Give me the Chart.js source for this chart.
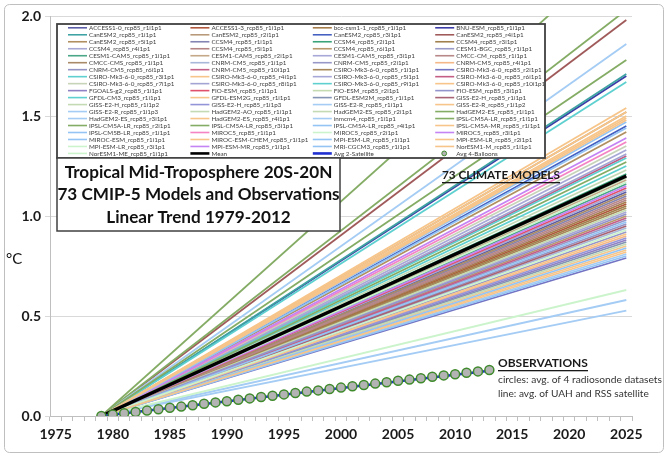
<!DOCTYPE html>
<html lang="en">
<head>
<meta charset="UTF-8">
<title>Tropical Mid-Troposphere 20S-20N - 73 CMIP-5 models</title>
<script src="https://cdn.jsdelivr.net/npm/chart.js"></script>
<style>
	html, body { margin: 0; padding: 0; background: #fff; }
	#wrap { width: 668px; height: 459px; }
</style>
</head>
<body>
<div id="wrap"><canvas id="trendChart" width="668" height="459"></canvas></div>

<script>
// x categories: one per year
const years = [];
for (let y = 1975; y <= 2025; y++) years.push(String(y));

const yTicks = [0, 0.5, 1.0, 1.5, 2.0];

// legend order (row by row, 4 columns)
const modelNames = [
	'ACCESS1-0_rcp85_r1i1p1', 'ACCESS1-3_rcp85_r1i1p1', 'bcc-csm1-1_rcp85_r1i1p1', 'BNU-ESM_rcp85_r1i1p1',
	'CanESM2_rcp85_r1i1p1', 'CanESM2_rcp85_r2i1p1', 'CanESM2_rcp85_r3i1p1', 'CanESM2_rcp85_r4i1p1',
	'CanESM2_rcp85_r5i1p1', 'CCSM4_rcp85_r1i1p1', 'CCSM4_rcp85_r2i1p1', 'CCSM4_rcp85_r3i1p1',
	'CCSM4_rcp85_r4i1p1', 'CCSM4_rcp85_r5i1p1', 'CCSM4_rcp85_r6i1p1', 'CESM1-BGC_rcp85_r1i1p1',
	'CESM1-CAM5_rcp85_r1i1p1', 'CESM1-CAM5_rcp85_r2i1p1', 'CESM1-CAM5_rcp85_r3i1p1', 'CMCC-CM_rcp85_r1i1p1',
	'CMCC-CMS_rcp85_r1i1p1', 'CNRM-CM5_rcp85_r1i1p1', 'CNRM-CM5_rcp85_r2i1p1', 'CNRM-CM5_rcp85_r4i1p1',
	'CNRM-CM5_rcp85_r6i1p1', 'CNRM-CM5_rcp85_r10i1p1', 'CSIRO-Mk3-6-0_rcp85_r1i1p1', 'CSIRO-Mk3-6-0_rcp85_r2i1p1',
	'CSIRO-Mk3-6-0_rcp85_r3i1p1', 'CSIRO-Mk3-6-0_rcp85_r4i1p1', 'CSIRO-Mk3-6-0_rcp85_r5i1p1', 'CSIRO-Mk3-6-0_rcp85_r6i1p1',
	'CSIRO-Mk3-6-0_rcp85_r7i1p1', 'CSIRO-Mk3-6-0_rcp85_r8i1p1', 'CSIRO-Mk3-6-0_rcp85_r9i1p1', 'CSIRO-Mk3-6-0_rcp85_r10i1p1',
	'FGOALS-g2_rcp85_r1i1p1', 'FIO-ESM_rcp85_r1i1p1', 'FIO-ESM_rcp85_r2i1p1', 'FIO-ESM_rcp85_r3i1p1',
	'GFDL-CM3_rcp85_r1i1p1', 'GFDL-ESM2G_rcp85_r1i1p1', 'GFDL-ESM2M_rcp85_r1i1p1', 'GISS-E2-H_rcp85_r1i1p1',
	'GISS-E2-H_rcp85_r1i1p2', 'GISS-E2-H_rcp85_r1i1p3', 'GISS-E2-R_rcp85_r1i1p1', 'GISS-E2-R_rcp85_r1i1p2',
	'GISS-E2-R_rcp85_r1i1p3', 'HadGEM2-AO_rcp85_r1i1p1', 'HadGEM2-ES_rcp85_r2i1p1', 'HadGEM2-ES_rcp85_r1i1p1',
	'HadGEM2-ES_rcp85_r3i1p1', 'HadGEM2-ES_rcp85_r4i1p1', 'inmcm4_rcp85_r1i1p1', 'IPSL-CM5A-LR_rcp85_r1i1p1',
	'IPSL-CM5A-LR_rcp85_r2i1p1', 'IPSL-CM5A-LR_rcp85_r3i1p1', 'IPSL-CM5A-LR_rcp85_r4i1p1', 'IPSL-CM5A-MR_rcp85_r1i1p1',
	'IPSL-CM5B-LR_rcp85_r1i1p1', 'MIROC5_rcp85_r1i1p1', 'MIROC5_rcp85_r2i1p1', 'MIROC5_rcp85_r3i1p1',
	'MIROC-ESM_rcp85_r1i1p1', 'MIROC-ESM-CHEM_rcp85_r1i1p1', 'MPI-ESM-LR_rcp85_r1i1p1', 'MPI-ESM-LR_rcp85_r2i1p1',
	'MPI-ESM-LR_rcp85_r3i1p1', 'MPI-ESM-MR_rcp85_r1i1p1', 'MRI-CGCM3_rcp85_r1i1p1', 'NorESM1-M_rcp85_r1i1p1',
	'NorESM1-ME_rcp85_r1i1p1'
];

// trend line value in 2025 (all lines start at 0 in 1979), deg C
const model2025 = [
	1.12, 1.06, 1.07, 1.70,
	1.71, 1.52, 1.45, 1.98,
	1.42, 1.10, 1.21, 1.05,
	1.02, 1.08, 1.00, 0.98,
	1.16, 1.18, 1.13, 1.09,
	1.11, 0.94, 0.92, 0.90,
	0.96, 0.99, 1.04, 0.79,
	1.67, 1.50, 1.33, 1.30,
	1.35, 1.31, 1.29, 1.49,
	0.88, 1.14, 1.03, 1.01,
	1.25, 0.85, 0.87, 0.95,
	0.86, 0.89, 0.58, 0.83,
	0.81, 1.19, 1.23, 2.03,
	1.86, 1.54, 0.527, 2.35,
	1.78, 1.27, 1.47, 1.52,
	0.84, 1.37, 0.63, 1.39,
	1.44, 1.48, 0.97, 0.91,
	0.93, 1.15, 0.80, 0.82,
	1.17
];

const modelColors = [
	'#5b5ea6', '#b0583c', '#a57c4a', '#3c3ca8',
	'#3fa3a3', '#b89a78', '#4560c0', '#a05a5a',
	'#b09060', '#8484b4', '#3aa37a', '#a0804c',
	'#a8a8d4', '#b48484', '#b8986c', '#9a9ac8',
	'#4aa888', '#c4a888', '#a8a8d8', '#b88888',
	'#a88a68', '#a8b8d8', '#9898c8', '#f4b888',
	'#9494c4', '#c46088', '#a8885a', '#7474c4',
	'#5ed0d0', '#f7c58a', '#a8a8d8', '#c45e84',
	'#c8d4b8', '#a4a4d4', '#5ed0d0', '#f7c58a',
	'#9080c4', '#e0506a', '#c4dab0', '#9494cc',
	'#5ed0d0', '#f7c58a', '#8494b4', '#a86474',
	'#c4dab4', '#9494d8', '#a4ccf4', '#f7c58a',
	'#a4ccf4', '#c4dab4', '#c4dab4', '#84ac64',
	'#a4ccf4', '#f7c58a', '#a4ccf4', '#84ac64',
	'#84ac64', '#84ac64', '#94c4f4', '#f7c58a',
	'#94c4f4', '#f484c4', '#ccf4cc', '#c484f4',
	'#94c4f4', '#f7c58a', '#94c4f4', '#f7c58a',
	'#ccf4cc', '#c484f4', '#94c4f4', '#f7c58a',
	'#ccf4cc'
];

const meanStart = 0, meanEnd2025 = 1.20;

// observations, 1979-2013
const obsYears = [];
for (let y = 1979; y <= 2013; y++) obsYears.push(String(y));
const balloonTrend = [
	0.000, 0.007, 0.014, 0.020, 0.027, 0.034, 0.041, 0.047, 0.054, 0.061,
	0.068, 0.074, 0.081, 0.088, 0.095, 0.101, 0.108, 0.115, 0.122, 0.128,
	0.135, 0.142, 0.149, 0.155, 0.162, 0.169, 0.176, 0.182, 0.189, 0.196,
	0.203, 0.209, 0.216, 0.223, 0.230
];
const satStart = 0, satEnd2013 = 0.226;

const FONT = 'Lato, "Open Sans", sans-serif';

// datasets
const datasets = [];
modelNames.forEach((name, i) => {
	datasets.push({
		label: name,
		data: [{ x: '1979', y: 0 }, { x: '2025', y: model2025[i] }],
		borderColor: modelColors[i],
		borderWidth: 1.8,
		pointRadius: 0,
		fill: false,
		order: 200 - i
	});
});
datasets.push({
	label: 'Mean',
	data: [{ x: '1979', y: meanStart }, { x: '2025', y: meanEnd2025 }],
	borderColor: '#000000',
	borderWidth: 3.5,
	pointRadius: 0,
	order: 2
});
datasets.push({
	label: 'Avg 2-Satellite',
	data: [{ x: '1979', y: satStart }, { x: '2013', y: satEnd2013 }],
	borderColor: '#1f2fd0',
	borderWidth: 2.5,
	pointRadius: 0,
	order: 1
});
datasets.push({
	label: 'Avg 4-Balloons',
	data: obsYears.map((y, i) => ({ x: y, y: balloonTrend[i] })),
	showLine: false,
	pointRadius: 4.5,
	pointBackgroundColor: '#b3b3b3',
	pointBorderColor: '#3f8a2c',
	pointBorderWidth: 1.5,
	order: 0
});

// pick font size so text spans a given width
function fitFont(ctx, text, weight, width, family) {
	ctx.font = weight + ' 20px ' + family;
	const w = ctx.measureText(text).width;
	const size = 20 * width / w;
	ctx.font = weight + ' ' + size.toFixed(2) + 'px ' + family;
	return size;
}

const framePlugin = {
	id: 'frame',
	beforeDraw(chart) {
		const ctx = chart.ctx;
		ctx.save();
		ctx.fillStyle = '#fff';
		ctx.fillRect(0, 0, chart.width, chart.height);
		ctx.strokeStyle = '#bfbfbf';
		ctx.lineWidth = 1;
		ctx.beginPath();
		ctx.roundRect(4.5, 4.5, 659, 448, 5);
		ctx.stroke();
		ctx.restore();
	}
};

const boxesPlugin = {
	id: 'boxes',
	afterDatasetsDraw(chart) {
		const ctx = chart.ctx;
		const ds = chart.data.datasets;
		ctx.save();

		// legend box
		ctx.fillStyle = '#fff';
		ctx.fillRect(57, 24, 488, 134);
		ctx.strokeStyle = '#404040';
		ctx.lineWidth = 1.8;
		ctx.strokeRect(57, 24, 488, 134);

		ctx.font = '6.3px ' + FONT;
		ctx.textBaseline = 'middle';
		ctx.textAlign = 'left';
		ds.forEach((d, i) => {
			const col = i % 4, row = Math.floor(i / 4);
			const x0 = 68 + col * 122.4;
			const yy = 27.8 + row * 6.98;
			if (d.showLine === false) {
				ctx.beginPath();
				ctx.arc(x0 + 9, yy, 2.4, 0, Math.PI * 2);
				ctx.fillStyle = d.pointBackgroundColor;
				ctx.fill();
				ctx.strokeStyle = d.pointBorderColor;
				ctx.lineWidth = 1;
				ctx.stroke();
			} else {
				ctx.beginPath();
				ctx.moveTo(x0, yy);
				ctx.lineTo(x0 + 19, yy);
				ctx.strokeStyle = d.borderColor;
				ctx.lineWidth = d.borderWidth > 2 ? 2.6 : 1.6;
				ctx.stroke();
			}
			ctx.fillStyle = '#404040';
			ctx.fillText(d.label, x0 + 21, yy + 0.3);
		});

		// title box
		ctx.fillStyle = '#fff';
		ctx.fillRect(57, 158, 283, 73);
		ctx.strokeStyle = '#404040';
		ctx.lineWidth = 1.5;
		ctx.strokeRect(57, 158, 283, 73);
		ctx.fillStyle = '#111';
		ctx.textAlign = 'center';
		const titleLines = ['Tropical Mid-Troposphere 20S-20N', '73 CMIP-5 Models and Observations', 'Linear Trend 1979-2012'];
		fitFont(ctx, titleLines[0], 'bold', 268, FONT);
		titleLines.forEach((t, i) => ctx.fillText(t, 198.5, 172 + i * 22.8));

		// annotations
		ctx.textAlign = 'left';
		fitFont(ctx, '73 CLIMATE MODELS', 'bold', 118, FONT);
		ctx.fillStyle = '#1a1a1a';
		ctx.fillText('73 CLIMATE MODELS', 442, 175);
		ctx.fillRect(442, 182, 118, 1.3);

		fitFont(ctx, 'OBSERVATIONS', 'bold', 90, FONT);
		ctx.fillText('OBSERVATIONS', 498, 363);
		ctx.fillRect(498, 370, 90, 1.3);

		ctx.fillStyle = '#333';
		fitFont(ctx, 'circles: avg. of 4 radiosonde datasets', 'normal', 164, FONT);
		ctx.fillText('circles: avg. of 4 radiosonde datasets', 498, 379.5);
		fitFont(ctx, 'line: avg. of UAH and RSS satellite', 'normal', 151, FONT);
		ctx.fillText('line: avg. of UAH and RSS satellite', 498, 393.5);

		ctx.fillStyle = '#111';
		ctx.font = '15px ' + FONT;
		ctx.fillText('\u00B0C', 6, 259);
		ctx.restore();
	}
};

new Chart(document.getElementById('trendChart'), {
	type: 'line',
	data: { labels: years, datasets: datasets },
	options: {
		responsive: false,
		animation: false,
		events: [],
		layout: { padding: { left: 0, top: 16, right: 36, bottom: 0 } },
		elements: { line: { tension: 0 } },
		plugins: { legend: { display: false }, tooltip: { enabled: false } },
		scales: {
			x: {
				type: 'category',
				offset: true,
				grid: { offset: true, drawOnChartArea: false, tickLength: 5, color: '#bfbfbf' },
				border: { color: '#bfbfbf' },
				ticks: {
					autoSkip: false,
					maxRotation: 0,
					padding: 5,
					color: '#1a1a1a',
					font: { family: FONT, weight: 'bold', size: 14 },
					callback: function (v) {
						const y = this.getLabelForValue(v);
						return Number(y) % 5 === 0 ? y : '';
					}
				},
				afterFit(s) { s.height = 43; }
			},
			y: {
				min: yTicks[0],
				max: yTicks[yTicks.length - 1],
				grid: { color: '#d9d9d9', tickLength: 5 },
				border: { color: '#bfbfbf' },
				ticks: {
					stepSize: 0.5,
					padding: 4,
					color: '#1a1a1a',
					font: { family: FONT, weight: 'bold', size: 14 },
					callback: v => v.toFixed(1)
				},
				afterFit(s) { s.width = 50; }
			}
		}
	},
	plugins: [framePlugin, boxesPlugin]
});
</script>
</body>
</html>
